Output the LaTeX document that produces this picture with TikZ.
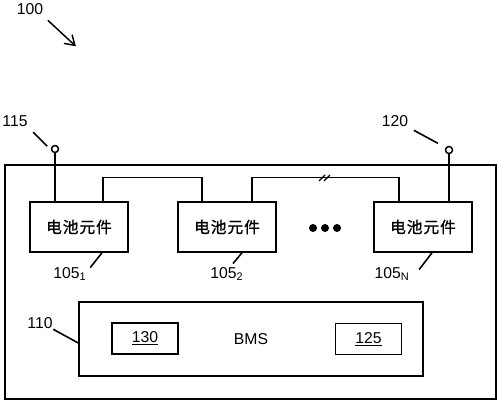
\documentclass[tikz,border=0pt]{standalone}
\usepackage{fontspec}
\setmainfont{Liberation Sans}
\newfontfamily\cjk[FakeBold=1.2,LetterSpace=6]{Noto Sans CJK SC}
\usetikzlibrary{arrows.meta,calc}
\tikzset{
  cellbox/.style={draw,minimum width=73.5pt,minimum height=37.5pt,inner sep=0pt,font=\cjk\fontsize{11.8}{14}\selectfont},
  bmsbox/.style={draw,minimum width=258pt,minimum height=55.5pt,inner sep=0pt},
  subbox/.style={draw,minimum width=49.5pt,minimum height=23.25pt,inner sep=0pt},
  term/.style={draw,circle,fill=white,minimum size=5.25pt,inner sep=0pt},
  lbl/.style={inner sep=0pt},
  leader/.style={line width=1.2pt},
}
\begin{document}
\begin{tikzpicture}[x=0.75pt,y=0.75pt,yscale=-1,xscale=1,line width=1.1pt,font=\fontsize{11.8}{14}\selectfont]
\useasboundingbox (0,0) rectangle (500,403);

%Shape: Rectangle [pack]
\draw (5,165) rectangle (496,399);

%Shape: Rectangle [cells]
\node [cellbox] (cell1) at (79,227) {电池元件};
\node [cellbox] (cell2) at (227,227) {电池元件};
\node [cellbox] (cellN) at (423,227) {电池元件};

%Shape: Circle [dots]
\foreach \x in {313,325,337}
  \fill (\x,228) circle [radius=4];

%Shape: Circle [terminals]
\node [term] (t115) at (55,149) {};
\node [term] (t120) at (449,150) {};
\draw (t115) -- (t115 |- cell1.north);
\draw (t120) -- (t120 |- cellN.north);

%Straight Lines [wires]
\draw ($(cell1.north)+(24,0)$) -- ++(0,-24) -| ($(cell2.north)+(-25,0)$);
\draw ($(cell2.north)+(25,0)$) -- ++(0,-24) -| ($(cellN.north)+(-24,0)$);
\coordinate (brk) at (325,178);
\draw [line width=0.8pt] (brk) ++(-6,3) -- ++(6,-6);
\draw [line width=0.8pt] (brk) ++(-1,3) -- ++(6,-6);

%Shape: Rectangle [bms]
\node [bmsbox] (bms) at (251,339) {BMS};
\node [subbox] (b130) at (145,338.5) {\underline{130}};
\node [subbox] (b125) at (368.5,339) {\underline{125}};

% Text Node
\node [lbl] (n100) at (30,9) {100};
\draw [-{Straight Barb[length=7pt,width=9pt]}] ($(n100.south east)+(4,5)$) -- ++(28,26);
% Text Node
\node [lbl] (n115) at (15,121) {115};
\draw [leader] ($(n115.south east)+(5,5)$) -- ++(14,14);
% Text Node
\node [lbl] (n120) at (395,121) {120};
\draw [leader] ($(n120.south east)+(5,3)$) -- ++(24,13);
% Text Node
\node [lbl] (n110) at (40,323) {110};
\draw [leader] (n110.south east) -- ($(bms.west)+(0,4)$);
% Text Node
\node [lbl] (n1051) at (70,274) {105\textsubscript{1}};
\draw [leader] ($(n1051.north east)+(3,1)$) -- ($(cell1.south)+(23,0)$);
% Text Node
\node [lbl] (n1052) at (227,274) {105\textsubscript{2}};
\draw [leader] ($(n1052.north)+(6,-3)$) -- ($(cell2.south)+(15,0)$);
% Text Node
\node [lbl] (n105N) at (392,274) {105\textsubscript{N}};
\draw [leader] ($(n105N.north east)+(9,3)$) -- ($(cellN.south)+(9,0)$);
\end{tikzpicture}
\end{document}
